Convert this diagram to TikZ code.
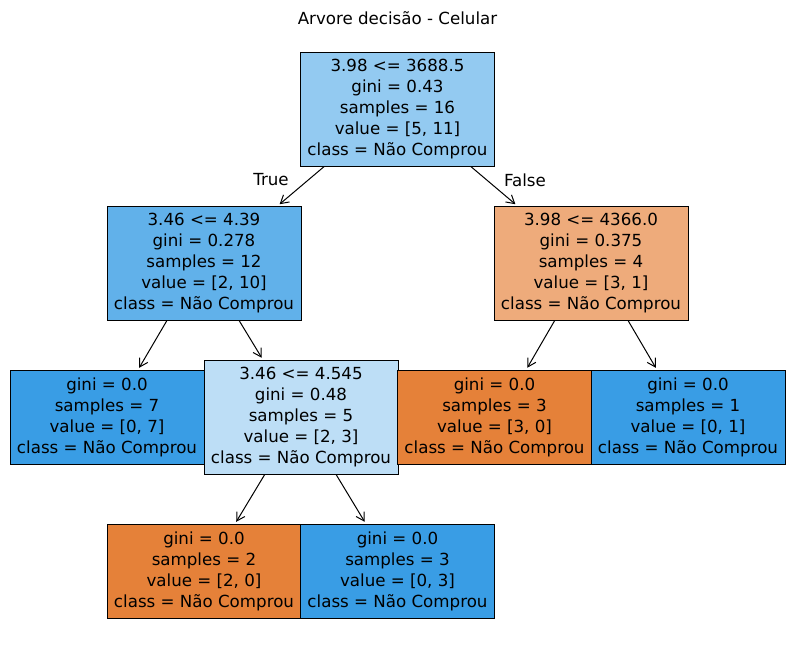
\documentclass[tikz,border=0pt]{standalone}
\usepackage{fontspec}
\setmainfont{DejaVu Sans}
\usetikzlibrary{arrows.meta,calc}
\definecolor{c0}{RGB}{147,202,241}
\definecolor{c1}{RGB}{97,177,234}
\definecolor{c2}{RGB}{238,171,123}
\definecolor{c3}{RGB}{189,222,246}
\definecolor{cor}{RGB}{229,129,57}
\definecolor{cbl}{RGB}{57,157,229}
\tikzset{
  treebox/.style={draw=black, line width=0.75pt, align=center, inner sep=0pt,
    minimum width=145.5pt, font=\fontsize{12.5pt}{15.75pt}\selectfont},
  splitbox/.style={treebox, minimum height=85.5pt},
  leafbox/.style={treebox, minimum height=70.5pt},
  edge/.style={line width=0.75pt, -{Straight Barb[length=6pt,width=7pt]}, shorten >=1.5pt},
  lbl/.style={font=\fontsize{12.5pt}{15pt}\selectfont, inner sep=0pt}
}
\begin{document}
\begin{tikzpicture}[x=0.75pt,y=-0.75pt]
\useasboundingbox (0,0) rectangle (794,658);
\node[lbl] (title) at (397.5,18) {Arvore decisão - Celular};
\node[splitbox, fill=c0] (root) at (397.5,109) {3.98 <= 3688.5\\gini = 0.43\\samples = 16\\value = [5, 11]\\class = Não Comprou};
\node[splitbox, fill=c1] (L) at (204,263) {3.46 <= 4.39\\gini = 0.278\\samples = 12\\value = [2, 10]\\class = Não Comprou};
\node[splitbox, fill=c2] (R) at (591,263) {3.98 <= 4366.0\\gini = 0.375\\samples = 4\\value = [3, 1]\\class = Não Comprou};
\node[leafbox, fill=cbl] (LA) at (107,417) {gini = 0.0\\samples = 7\\value = [0, 7]\\class = Não Comprou};
\node[splitbox, fill=c3] (LB) at (301,417) {3.46 <= 4.545\\gini = 0.48\\samples = 5\\value = [2, 3]\\class = Não Comprou};
\node[leafbox, fill=cor] (RC) at (494.5,417) {gini = 0.0\\samples = 3\\value = [3, 0]\\class = Não Comprou};
\node[leafbox, fill=cbl] (RD) at (688,417) {gini = 0.0\\samples = 1\\value = [0, 1]\\class = Não Comprou};
\node[leafbox, fill=cor] (BE) at (204,571) {gini = 0.0\\samples = 2\\value = [2, 0]\\class = Não Comprou};
\node[leafbox, fill=cbl] (BF) at (397.5,571) {gini = 0.0\\samples = 3\\value = [0, 3]\\class = Não Comprou};
\node[lbl] (true) at (271,180) {True};
\node[lbl] (false) at (525,180) {False};
\draw[edge] ($(root.south west)!0.124!(root.south east)$) -- ($(L.north west)!0.88!(L.north east)$);
\draw[edge] ($(root.south west)!0.876!(root.south east)$) -- ($(R.north west)!0.12!(R.north east)$);
\draw[edge] ($(L.south west)!0.31!(L.south east)$) -- ($(LA.north west)!0.66!(LA.north east)$);
\draw[edge] ($(L.south west)!0.68!(L.south east)$) -- ($(LB.north west)!0.304!(LB.north east)$);
\draw[edge] ($(R.south west)!0.314!(R.south east)$) -- ($(RC.north west)!0.663!(RC.north east)$);
\draw[edge] ($(R.south west)!0.69!(R.south east)$) -- ($(RD.north west)!0.34!(RD.north east)$);
\draw[edge] ($(LB.south west)!0.314!(LB.south east)$) -- ($(BE.north west)!0.66!(BE.north east)$);
\draw[edge] ($(LB.south west)!0.68!(LB.south east)$) -- ($(BF.north west)!0.337!(BF.north east)$);
\end{tikzpicture}
\end{document}
